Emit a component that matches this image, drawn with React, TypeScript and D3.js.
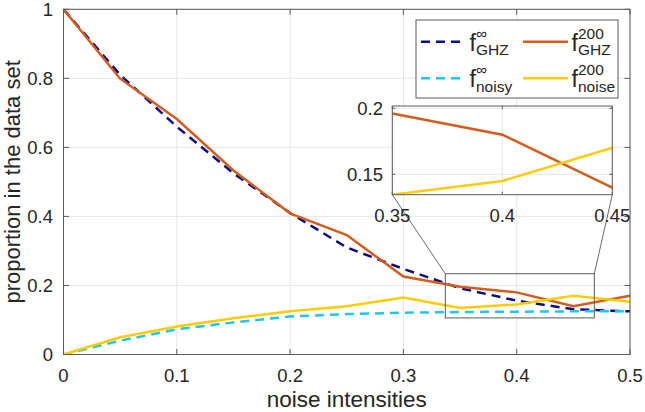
import * as d3 from 'd3'

// noise levels on the x axis
const noise = [0, 0.05, 0.1, 0.15, 0.2, 0.25, 0.3, 0.35, 0.4, 0.45, 0.5]
const fGhzInf = [1, 0.81, 0.66, 0.525, 0.41, 0.31, 0.248, 0.192, 0.156, 0.131, 0.125]
const fNoisyInf = [0, 0.04, 0.073, 0.093, 0.11, 0.117, 0.121, 0.123, 0.124, 0.125, 0.125]
const fGhz200 = [1, 0.799, 0.682, 0.533, 0.409, 0.346, 0.226, 0.196, 0.18, 0.14, 0.17]
const fNoise200 = [0, 0.05, 0.081, 0.105, 0.125, 0.14, 0.165, 0.1346, 0.145, 0.17, 0.153]

const xTicks = [0, 0.1, 0.2, 0.3, 0.4, 0.5]
const yTicks = [0, 0.2, 0.4, 0.6, 0.8, 1]
const insetXTicks = [0.35, 0.4, 0.45]
const insetYTicks = [0.15, 0.2]
const zoomXRange = [0.337, 0.4685]
const zoomYRange = [0.106, 0.234]
const insetXDomain = [0.35, 0.45]
const insetYDomain = [0.1346, 0.2017]

const W = 645, H = 412
const plot = { left: 63.5, right: 630, top: 9.3, bottom: 354.5 }
const inset = { left: 392.3, right: 612.3, top: 106, bottom: 194.7 }

const NAVY = '#0b0b82'
const CYAN = '#1ec6f2'
const ORANGE = '#d45d1e'
const YELLOW = '#ffcc00'
const TXT = '#262626'
const AX = '#5a5a5a'
const GRID = '#e6e6e6'
const FONT = 'Helvetica, "Liberation Sans", Arial, sans-serif'

const x = d3.scaleLinear().domain([0, 0.5]).range([plot.left, plot.right])
const y = d3.scaleLinear().domain([0, 1]).range([plot.bottom, plot.top])
const ix = d3.scaleLinear().domain(insetXDomain).range([inset.left, inset.right])
const iy = d3.scaleLinear().domain(insetYDomain).range([inset.bottom, inset.top])

const pts = (vals: number[]) => noise.map((n, i) => [n, vals[i]] as [number, number])

const series = [
  { vals: fGhzInf, color: NAVY, dash: '9,6' },
  { vals: fNoisyInf, color: CYAN, dash: '9,6' },
  { vals: fGhz200, color: ORANGE, dash: '' },
  { vals: fNoise200, color: YELLOW, dash: '' },
]

const Legend = () => {
  const box = { x: 416, y: 20, w: 202, h: 78 }
  const rows = [
    { lx: 421, color: NAVY, dash: '9,6', sup: '∞', sub: 'GHZ', row: 0 },
    { lx: 523, color: ORANGE, dash: '', sup: '200', sub: 'GHZ', row: 0 },
    { lx: 421, color: CYAN, dash: '9,6', sup: '∞', sub: 'noisy', row: 1 },
    { lx: 523, color: YELLOW, dash: '', sup: '200', sub: 'noise', row: 1 },
  ]
  return (
    <g>
      <rect x={box.x} y={box.y} width={box.w} height={box.h} fill="#fff" stroke={AX} strokeWidth={1} />
      {rows.map((r, i) => {
        const cy = r.row === 0 ? 41.7 : 78.3
        const tx = r.lx + 48.5
        return (
          <g key={i}>
            <line x1={r.lx} x2={r.lx + 45} y1={cy} y2={cy} stroke={r.color} strokeWidth={2.5} strokeDasharray={r.dash} />
            <text x={tx} y={cy + 9} fontSize={23} fill={TXT} fontFamily={FONT}>f</text>
            <text x={tx + 6.5} y={cy - 3} fontSize={15.5} fill={TXT} fontFamily={FONT}>{r.sup}</text>
            <text x={tx + 6.5} y={cy + 13.5} fontSize={15.5} fill={TXT} fontFamily={FONT}>{r.sub}</text>
          </g>
        )
      })}
    </g>
  )
}

const App = () => {
  const line = d3.line<[number, number]>().x(d => x(d[0])).y(d => y(d[1]))
  const iline = d3.line<[number, number]>().x(d => ix(d[0])).y(d => iy(d[1]))
  const tk = 5.5
  const zx0 = x(zoomXRange[0]), zx1 = x(zoomXRange[1])
  const zy0 = y(zoomYRange[1]), zy1 = y(zoomYRange[0])

  return (
    <svg width={W} height={H} style={{ position: 'absolute', left: 0, top: 0, background: '#fff' }}>
      <defs>
        <clipPath id="main"><rect x={plot.left} y={plot.top} width={plot.right - plot.left} height={plot.bottom - plot.top} /></clipPath>
        <clipPath id="ins"><rect x={inset.left} y={inset.top} width={inset.right - inset.left} height={inset.bottom - inset.top} /></clipPath>
      </defs>

      {/* grid */}
      {xTicks.map(t => <line key={'gx' + t} x1={x(t)} x2={x(t)} y1={plot.top} y2={plot.bottom} stroke={GRID} />)}
      {yTicks.map(t => <line key={'gy' + t} x1={plot.left} x2={plot.right} y1={y(t)} y2={y(t)} stroke={GRID} />)}

      <g clipPath="url(#main)">
        {series.map((s, i) => (
          <path key={i} d={line(pts(s.vals)) ?? ''} fill="none" stroke={s.color} strokeWidth={2.5} strokeDasharray={s.dash} />
        ))}
      </g>

      {/* axes box + ticks */}
      <rect x={plot.left} y={plot.top} width={plot.right - plot.left} height={plot.bottom - plot.top} fill="none" stroke={AX} strokeWidth={1} />
      {xTicks.map(t => (
        <g key={'tx' + t}>
          <line x1={x(t)} x2={x(t)} y1={plot.bottom} y2={plot.bottom - tk} stroke={AX} />
          <line x1={x(t)} x2={x(t)} y1={plot.top} y2={plot.top + tk} stroke={AX} />
          <text x={x(t)} y={382} textAnchor="middle" fontSize={18.5} fill={TXT} fontFamily={FONT}>{String(t)}</text>
        </g>
      ))}
      {yTicks.map(t => (
        <g key={'ty' + t}>
          <line x1={plot.left} x2={plot.left + tk} y1={y(t)} y2={y(t)} stroke={AX} />
          <line x1={plot.right} x2={plot.right - tk} y1={y(t)} y2={y(t)} stroke={AX} />
          <text x={53} y={y(t) + 6.5} textAnchor="end" fontSize={18.5} fill={TXT} fontFamily={FONT}>{String(t)}</text>
        </g>
      ))}

      <text x={(plot.left + plot.right) / 2} y={407} textAnchor="middle" fontSize={22.5} fill={TXT} fontFamily={FONT}>noise intensities</text>
      <text transform={`translate(20,${(plot.top + plot.bottom) / 2}) rotate(-90)`} textAnchor="middle" fontSize={22} fill={TXT} fontFamily={FONT}>proportion in the data set</text>

      {/* zoom rectangle and connectors */}
      <rect x={zx0} y={zy0} width={zx1 - zx0} height={zy1 - zy0} fill="none" stroke={AX} strokeWidth={1} />
      <line x1={inset.left} y1={inset.bottom} x2={zx0} y2={zy0} stroke="#444" strokeWidth={0.8} />
      <line x1={inset.right} y1={inset.bottom} x2={zx1} y2={zy0} stroke="#444" strokeWidth={0.8} />

      {/* inset */}
      <rect x={inset.left} y={inset.top} width={inset.right - inset.left} height={inset.bottom - inset.top} fill="#fff" />
      {insetXTicks.map(t => <line key={'igx' + t} x1={ix(t)} x2={ix(t)} y1={inset.top} y2={inset.bottom} stroke={GRID} />)}
      {insetYTicks.map(t => <line key={'igy' + t} x1={inset.left} x2={inset.right} y1={iy(t)} y2={iy(t)} stroke={GRID} />)}
      <g clipPath="url(#ins)">
        <path d={iline(pts(fGhz200)) ?? ''} fill="none" stroke={ORANGE} strokeWidth={2.5} />
        <path d={iline(pts(fNoise200)) ?? ''} fill="none" stroke={YELLOW} strokeWidth={2.5} />
      </g>
      <rect x={inset.left} y={inset.top} width={inset.right - inset.left} height={inset.bottom - inset.top} fill="none" stroke={AX} strokeWidth={1} />
      {insetXTicks.map(t => (
        <g key={'itx' + t}>
          <line x1={ix(t)} x2={ix(t)} y1={inset.bottom} y2={inset.bottom - 3} stroke={AX} />
          <line x1={ix(t)} x2={ix(t)} y1={inset.top} y2={inset.top + 3} stroke={AX} />
          <text x={ix(t)} y={221.7} textAnchor="middle" fontSize={18.5} fill={TXT} fontFamily={FONT}>{String(t)}</text>
        </g>
      ))}
      {insetYTicks.map(t => (
        <g key={'ity' + t}>
          <line x1={inset.left} x2={inset.left + 3} y1={iy(t)} y2={iy(t)} stroke={AX} />
          <line x1={inset.right} x2={inset.right - 3} y1={iy(t)} y2={iy(t)} stroke={AX} />
          <text x={383} y={iy(t) + 6.5} textAnchor="end" fontSize={18.5} fill={TXT} fontFamily={FONT}>{String(t)}</text>
        </g>
      ))}

      <Legend />
    </svg>
  )
}

export default App
